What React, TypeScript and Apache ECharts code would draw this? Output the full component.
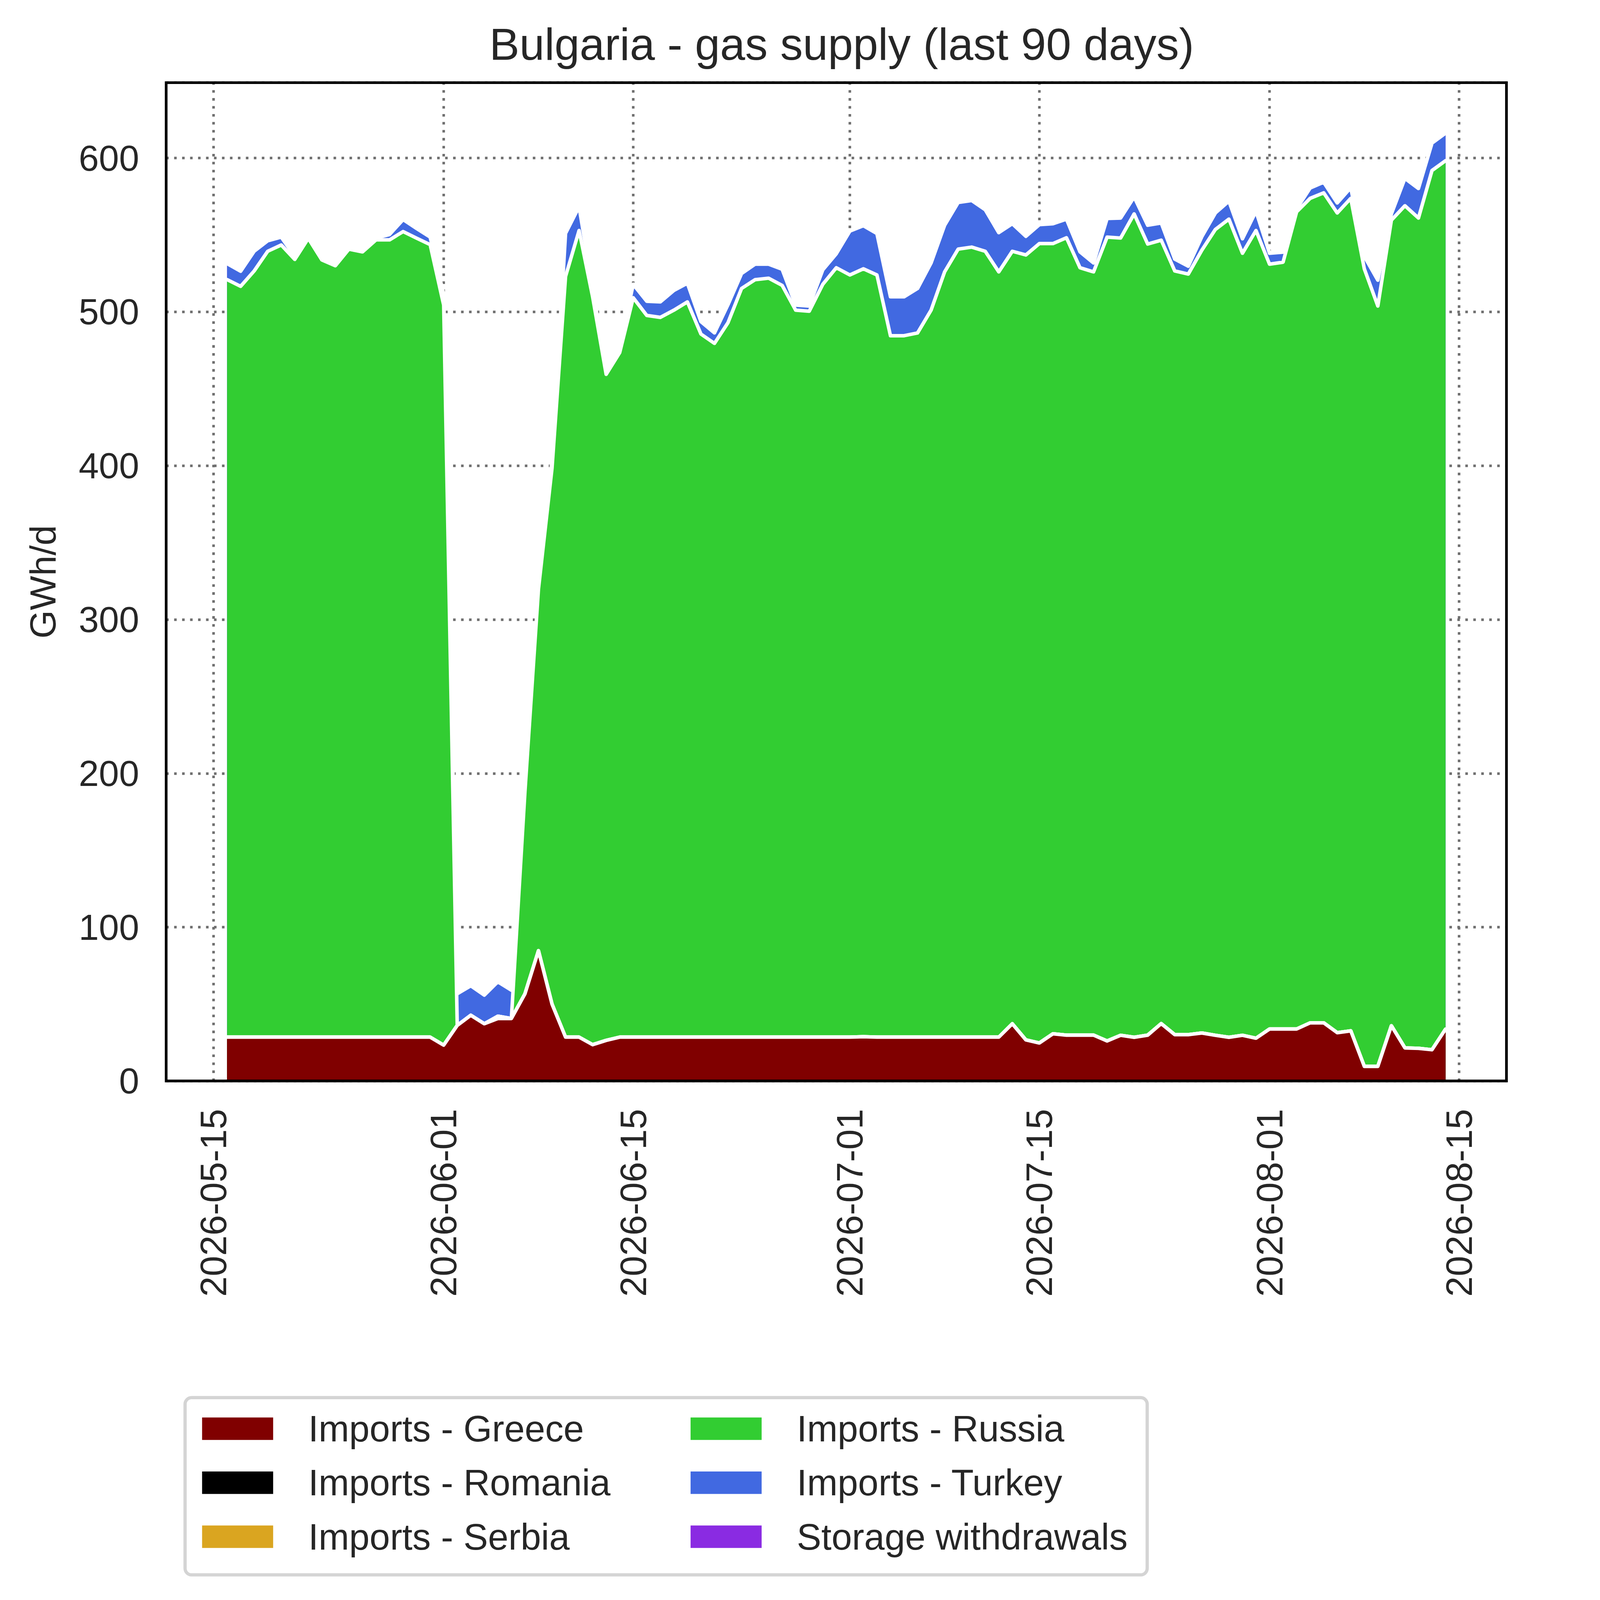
import React, { useEffect, useRef } from "react";
import * as echarts from "echarts";

const FONT = "'Liberation Sans', Arial, Helvetica, sans-serif";
const TEXT = "#262626";
const GRID_COLOR = "#6f6f6f";

const dates = [
  "2026-05-16","2026-05-17","2026-05-18","2026-05-19","2026-05-20","2026-05-21","2026-05-22","2026-05-23",
  "2026-05-24","2026-05-25","2026-05-26","2026-05-27","2026-05-28","2026-05-29","2026-05-30","2026-05-31",
  "2026-06-01","2026-06-02","2026-06-03","2026-06-04","2026-06-05","2026-06-06","2026-06-07","2026-06-08",
  "2026-06-09","2026-06-10","2026-06-11","2026-06-12","2026-06-13","2026-06-14","2026-06-15","2026-06-16",
  "2026-06-17","2026-06-18","2026-06-19","2026-06-20","2026-06-21","2026-06-22","2026-06-23","2026-06-24",
  "2026-06-25","2026-06-26","2026-06-27","2026-06-28","2026-06-29","2026-06-30","2026-07-01","2026-07-02",
  "2026-07-03","2026-07-04","2026-07-05","2026-07-06","2026-07-07","2026-07-08","2026-07-09","2026-07-10",
  "2026-07-11","2026-07-12","2026-07-13","2026-07-14","2026-07-15","2026-07-16","2026-07-17","2026-07-18",
  "2026-07-19","2026-07-20","2026-07-21","2026-07-22","2026-07-23","2026-07-24","2026-07-25","2026-07-26",
  "2026-07-27","2026-07-28","2026-07-29","2026-07-30","2026-07-31","2026-08-01","2026-08-02","2026-08-03",
  "2026-08-04","2026-08-05","2026-08-06","2026-08-07","2026-08-08","2026-08-09","2026-08-10","2026-08-11",
  "2026-08-12","2026-08-13","2026-08-14",
];

const greece = [
  28.5,28.5,28.5,28.5,28.5,28.5,28.5,28.5,28.5,28.5,28.5,28.5,28.5,28.5,28.5,28.5,
  23.3,36.1,42.7,37.2,40.6,40.6,56.6,84.7,50.0,28.5,28.5,23.6,26.4,
  28.5,28.5,28.5,28.5,28.5,28.5,28.5,28.5,28.5,28.5,28.5,28.5,28.5,28.5,28.5,28.5,28.5,28.5,
  28.8,28.5,28.5,28.5,28.5,28.5,28.5,28.5,28.5,28.5,28.5,
  37.2,26.7,24.7,30.7,29.8,29.8,29.8,26.0,29.7,28.4,29.8,37.3,30.1,30.1,31.2,29.7,28.4,29.7,27.8,
  33.8,33.8,33.8,37.8,37.8,31.4,32.6,9.5,9.5,35.9,21.5,21.2,20.3,33.7,
];

const romania = [
  0,0,0,0,0,0,0,0,0,0,0,0,0,0,0,0,
  0,0,0,0,1.5,0,0,0,0,0,0,0,0,0,0,0,0,0,0,0,0,0,0,0,0,0,0,0,0,0,
  0,0,0,0,0,0,0,0,0,0,0,0,0,0,0,0,0,0,0,0,0,0,0,0,0,0,0,0,0,0,0,
  0,0,0,0,0,0,0,0,0,0,0,0,0,0,
];

const serbia = [
  0,0,0,0,0,0,0,0,0,0,0,0,0,0,0,0,
  0,0,0,0,0,0,0,0,0,0,0,0,0,0,0,0,0,0,0,0,0,0,0,0,0,0,0,0,0,0,
  0,0,0,0,0,0,0,0,0,0,0,0,0,0,0,0,0,0,0,0,0,0,0,0,0,0,0,0,0,0,0,
  0,0,0,0,0,0,0,0,0,0,0,0,0,0,
];

const russia = [
  492.5,488.1,498.1,510.9,515.0,505.6,519.3,505.3,501.5,512.3,510.5,518.3,518.3,523.7,519.4,515.2,
  481.1,0,0,0,0,0,131.4,235.1,348.3,494.5,524.4,486.2,433.0,445.0,480.7,469.2,
  467.9,472.6,478.0,457.1,451.0,464.5,486.7,492.4,493.4,488.7,472.6,471.9,489.4,500.2,
  495.5,499.2,495.5,456.0,456.0,457.8,472.6,497.5,512.3,513.6,510.9,497.5,502.2,510.3,519.7,513.7,
  518.4,498.9,496.2,522.6,518.3,535.3,514.3,509.3,496.5,494.5,508.9,523.9,531.9,508.4,525.1,
  497.2,498.5,531.2,536.0,539.6,532.9,541.2,518.5,494.3,523.7,547.5,539.8,571.6,564.6,
];

const turkey = [
  10.4,9.8,12.8,6.8,5.1,1.9,null,null,null,null,null,1.2,3.5,7.8,6.3,4.9,
  6.6,20.6,19.2,18.6,22.4,18.4,null,1.2,4.7,28.0,15.5,5.2,2.6,3.5,8.7,9.2,
  10.1,12.8,12.1,8.1,6.8,11.7,9.7,10.1,9.1,10.5,3.3,3.4,9.4,9.1,
  28.5,28.0,26.9,25.3,25.3,28.9,30.7,30.3,30.3,30.3,27.0,25.5,17.9,12.1,12.3,12.9,
  12.1,10.3,5.8,12.1,13.0,11.0,12.2,11.2,7.7,5.1,8.8,10.7,11.7,9.4,12.5,
  7.1,6.5,2.0,6.7,6.9,6.5,7.0,8.1,16.8,4.1,17.8,19.2,17.8,17.9,
];

const storage = [
  0,0,0,0,0,0,0,0,0,0,0,0,0,0,0,0,
  0,0,0,0,0,0,0,0,0,0,0,0,0,0,0,0,0,0,0,0,0,0,0,0,0,0,0,0,0,0,
  0,0,0,0,0,0,0,0,0,0,0,0,0,0,0,0,0,0,0,0,0,0,0,0,0,0,0,0,0,0,0,
  0,0,0,0,0,0,0,0,0,0,0,0,0,0,
];

const seriesNames = [
  "Imports - Greece",
  "Imports - Romania",
  "Imports - Serbia",
  "Imports - Russia",
  "Imports - Turkey",
  "Storage withdrawals",
];
const seriesColors = ["#800000", "#000000", "#DAA520", "#32CD32", "#4169E1", "#8A2BE2"];
const seriesValues: (number | null)[][] = [greece, romania, serbia, russia, turkey, storage];

const tickDates = ["2026-05-15","2026-06-01","2026-06-15","2026-07-01","2026-07-15","2026-08-01","2026-08-15"];
const yTicks = [0, 100, 200, 300, 400, 500, 600];

const X_MIN = "2026-05-11 12:00";
const X_MAX = "2026-08-18 12:00";
const Y_MIN = 0;
const Y_MAX = 649;

const BASE_W = 5675;
const BASE_H = 5922;

function ts(s: string): number {
  const [datePart, timePart] = s.split(" ");
  const [y, m, d] = datePart.split("-").map(Number);
  let h = 0;
  let mi = 0;
  if (timePart) {
    const t = timePart.split(":").map(Number);
    h = t[0];
    mi = t[1];
  }
  return new Date(y, m - 1, d, h, mi).getTime();
}

function fmtDate(v: number): string {
  const d = new Date(Math.round(v));
  const p = (n: number) => (n < 10 ? "0" + n : "" + n);
  return d.getFullYear() + "-" + p(d.getMonth() + 1) + "-" + p(d.getDate());
}

// stacked tops (cumulative), built from the named arrays; null where a layer is absent
function cumulative(): (number | null)[][] {
  const out: (number | null)[][] = seriesValues.map(() => []);
  for (let i = 0; i < dates.length; i++) {
    let acc = 0;
    let broken = false;
    for (let k = 0; k < seriesValues.length; k++) {
      const v = seriesValues[k][i];
      if (v === null || v === undefined) {
        broken = true;
        out[k].push(null);
        continue;
      }
      acc += v;
      out[k].push(broken ? null : acc);
    }
  }
  return out;
}

function getScale(): number {
  if (typeof window === "undefined") return 1;
  const w = window.innerWidth || BASE_W;
  const h = window.innerHeight || BASE_H;
  return Math.min(w / BASE_W, h / BASE_H);
}

export default function App() {
  const ref = useRef<HTMLDivElement>(null);
  const S = getScale();

  useEffect(() => {
    if (!ref.current) return;
    const px = (v: number) => v * S;
    const chart = echarts.init(ref.current, null, { renderer: "svg" });
    const cum = cumulative();

    const series: any[] = seriesValues.map((_vals, k) => ({
      name: seriesNames[k],
      type: "line",
      z: 10 - k,
      data: dates.map((d, i) => [ts(d), cum[k][i]]),
      showSymbol: false,
      symbol: "none",
      silent: true,
      connectNulls: false,
      lineStyle: { color: "#ffffff", width: px(13), join: "round", cap: "round" },
      itemStyle: { color: seriesColors[k] },
      areaStyle: { color: seriesColors[k], opacity: 1, origin: "start" },
      emphasis: { disabled: true },
    }));

    series.push({
      name: "vgrid",
      type: "custom",
      z: 1,
      silent: true,
      data: tickDates.map((d) => [ts(d), 0]),
      encode: { x: 0, y: 1 },
      renderItem: (_params: any, api: any) => {
        const x = api.value(0);
        const a = api.coord([x, Y_MIN]);
        const b = api.coord([x, Y_MAX]);
        return {
          type: "line",
          shape: { x1: a[0], y1: a[1], x2: b[0], y2: b[1] },
          style: { stroke: GRID_COLOR, lineWidth: px(9.5), lineDash: [px(9.5), px(20)] },
        };
      },
    });

    const legendCommon = {
      orient: "vertical",
      icon: "rect",
      itemWidth: px(263),
      itemHeight: px(83),
      itemGap: px(64),
      padding: 0,
      selectedMode: false,
      itemStyle: { borderWidth: 0 },
      textStyle: {
        fontSize: px(136),
        color: TEXT,
        fontFamily: FONT,
        padding: [0, 0, 0, px(123)],
      },
    };

    const option: any = {
      animation: false,
      backgroundColor: "#ffffff",
      title: {
        text: "Bulgaria - gas supply (last 90 days)",
        left: px(3108),
        top: px(72),
        textAlign: "center",
        textStyle: { fontSize: px(167), fontWeight: "normal", color: TEXT, fontFamily: FONT },
      },
      grid: {
        left: px(615),
        right: px(99),
        top: px(306),
        bottom: px(1921),
        show: true,
        z: 20,
        borderColor: "#000000",
        borderWidth: px(10),
        backgroundColor: "transparent",
      },
      xAxis: {
        type: "value",
        min: ts(X_MIN),
        max: ts(X_MAX),
        axisLine: { show: false },
        axisTick: { show: false },
        splitLine: { show: false },
        axisLabel: {
          customValues: tickDates.map(ts),
          formatter: (v: number) => fmtDate(v),
          rotate: 90,
          margin: px(103),
          fontSize: px(136),
          color: TEXT,
          fontFamily: FONT,
          hideOverlap: false,
        },
      },
      yAxis: {
        type: "value",
        min: Y_MIN,
        max: Y_MAX,
        interval: 100,
        name: "GWh/d",
        nameLocation: "middle",
        nameGap: px(390),
        nameTextStyle: { fontSize: px(135), color: TEXT, fontFamily: FONT },
        axisLine: { show: false },
        axisTick: { show: false },
        axisLabel: {
          margin: px(100),
          fontSize: px(134),
          color: TEXT,
          fontFamily: FONT,
          showMaxLabel: false,
          formatter: (v: number) => (yTicks.indexOf(v) >= 0 ? String(v) : ""),
        },
        splitLine: {
          show: true,
          lineStyle: { color: GRID_COLOR, width: px(9.5), type: [px(9.5), px(20)] },
        },
      },
      legend: [
        {
          ...legendCommon,
          left: px(748),
          top: px(5220),
          data: [0, 1, 2].map((k) => ({ name: seriesNames[k], itemStyle: { color: seriesColors[k], borderWidth: 0 } })),
        },
        {
          ...legendCommon,
          left: px(2556),
          top: px(5220),
          data: [3, 4, 5].map((k) => ({ name: seriesNames[k], itemStyle: { color: seriesColors[k], borderWidth: 0 } })),
        },
      ],
      graphic: [
        {
          type: "rect",
          z: -1,
          shape: { x: px(685), y: px(5173), width: px(3561), height: px(656), r: px(24) },
          style: { fill: "#ffffff", stroke: "#d4d4d4", lineWidth: px(12) },
          silent: true,
        },
      ],
      series,
    };

    chart.setOption(option);
    return () => chart.dispose();
  }, [S]);

  return (
    <div
      ref={ref}
      style={{
        position: "absolute",
        left: 0,
        top: 0,
        width: Math.floor(BASE_W * S),
        height: Math.floor(BASE_H * S),
        background: "#fff",
      }}
    />
  );
}
